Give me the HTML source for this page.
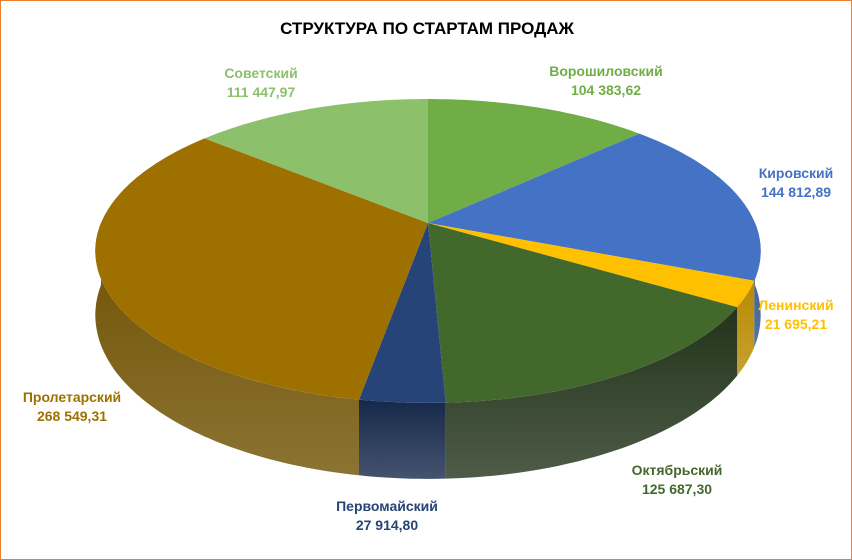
<!DOCTYPE html>
<html><head><meta charset="utf-8"><style>
html,body{margin:0;padding:0;background:#fff}
#wrap{width:850px;height:558px;border:1px solid #ed7d31;position:relative;overflow:hidden;background:#fff}
svg text{font-family:"Liberation Sans",sans-serif;font-weight:bold}
</style></head><body>
<div id="wrap">
<svg id="chart" width="850" height="558">
<text x="426" y="33" text-anchor="middle" font-size="17" fill="#000">СТРУКТУРА ПО СТАРТАМ ПРОДАЖ</text>
</svg>
</div>
<script>
const categories=["Ворошиловский","Кировский","Ленинский","Октябрьский","Первомайский","Пролетарский","Советский"];
const values=[104383.62,144812.89,21695.21,125687.30,27914.80,268549.31,111447.97];
const valueLabels=["104 383,62","144 812,89","21 695,21","125 687,30","27 914,80","268 549,31","111 447,97"];
const topColors=["#70ad47","#4472c4","#ffc000","#43682b","#264478","#9e7000","#8cc06a"];
const sideColors=["#4f7a32","#2f5290","#b88a00","#22331a","#16284a","#6e5000","#638a48"];
const labelColors=["#70ad47","#4472c4","#ffc000","#43682b","#264478","#9e7000","#8cc06a"];
const labelPos=[[605,75,"middle"],[795,177,"middle"],[795,309,"middle"],[676,474,"middle"],[386,510,"middle"],[71,401,"middle"],[260,77,"middle"]];

const svg=document.getElementById('chart');
const NS='http://www.w3.org/2000/svg';
const cx=427,cy=222,A=327,B=146.8,P=0.184,T=62;
function pt(deg,drop){const t=deg*Math.PI/180,s=Math.sin(t),c=Math.cos(t),k=1/(1+P*c);return [cx+A*s*k,cy-B*c*k+drop*k];}
function arc(a,b,drop){const pts=[];const n=Math.max(2,Math.ceil(Math.abs(b-a)));for(let i=0;i<=n;i++){pts.push(pt(a+(b-a)*i/n,drop));}return pts;}
const total=values.reduce((s,v)=>s+v,0);
const angles=[];let acc=0;
values.forEach(v=>{const a=acc/total*360;acc+=v;angles.push([a,acc/total*360]);});

const defs=document.createElementNS(NS,'defs');svg.appendChild(defs);
// sides
const sideG=document.createElementNS(NS,'g');


svg.appendChild(sideG);
angles.forEach(([a,b],i)=>{
  const a2=Math.max(a,90),b2=Math.min(b,270);
  if(b2<=a2)return;
  const top=arc(a2,b2,0),bot=arc(b2,a2,T);
  const d='M'+top.concat(bot).map(p=>p[0].toFixed(1)+','+p[1].toFixed(1)).join('L')+'Z';
  const g=document.createElementNS(NS,'linearGradient');
  g.setAttribute('id','sg'+i);g.setAttribute('x1','0');g.setAttribute('y1','0');g.setAttribute('x2','0');g.setAttribute('y2','1');
  g.innerHTML='<stop offset="0" stop-color="'+sideColors[i]+'"/><stop offset="1" stop-color="'+sideColors[i]+'" stop-opacity="0.8"/>';
  defs.appendChild(g);
  const path=document.createElementNS(NS,'path');
  path.setAttribute('d',d);path.setAttribute('fill','url(#sg'+i+')');
  
  
  sideG.appendChild(path);
});
// tops
angles.forEach(([a,b],i)=>{
  const pts=[[cx,cy]].concat(arc(a,b,0));
  const path=document.createElementNS(NS,'path');
  path.setAttribute('d','M'+pts.map(p=>p[0].toFixed(1)+','+p[1].toFixed(1)).join('L')+'Z');
  path.setAttribute('fill',topColors[i]);
  
  
  svg.appendChild(path);
});
// labels
categories.forEach((c,i)=>{
  const [x,y,anc]=labelPos[i];
  const t=document.createElementNS(NS,'text');
  t.setAttribute('x',x);t.setAttribute('y',y);t.setAttribute('text-anchor',anc);
  t.setAttribute('font-size','14');t.setAttribute('fill',labelColors[i]);
  
  
  t.innerHTML='<tspan x="'+x+'">'+c+'</tspan><tspan x="'+x+'" dy="19">'+valueLabels[i]+'</tspan>';
  svg.appendChild(t);
});
</script>
</body></html>
